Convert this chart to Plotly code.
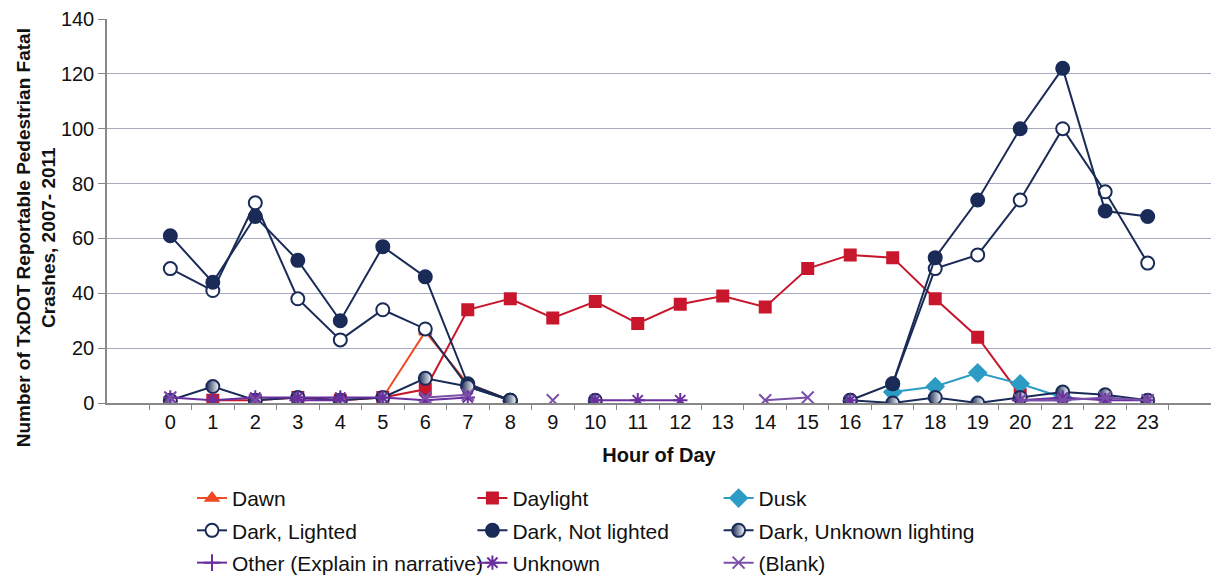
import plotly.graph_objects as go

# Ora del giorno (categorie asse x)
hours = [str(h) for h in range(24)]
N = None

dawn = [N, N, N, N, N, 2, 26, 7, 1, N, N, N, N, N, N, N, N, N, N, N, N, N, N, N]
daylight = [N, 1, 1, 2, 1, 2, 5, 34, 38, 31, 37, 29, 36, 39, 35, 49, 54, 53, 38, 24, 3, N, N, N]
dusk = [N, N, N, N, N, N, N, N, N, N, N, N, N, N, N, N, N, 4, 6, 11, 7, 2, N, N]
dark_lighted = [49, 41, 73, 38, 23, 34, 27, 6, 1, N, N, N, N, N, N, N, N, 7, 49, 54, 74, 100, 77, 51]
dark_not_lighted = [61, 44, 68, 52, 30, 57, 46, 7, 1, N, N, N, N, N, N, N, 1, 7, 53, 74, 100, 122, 70, 68]
dark_unknown = [1, 6, 1, 2, 1, 2, 9, 6, 1, N, 1, N, N, N, N, N, 1, 0, 2, 0, 2, 4, 3, 1]
other = [N, N, N, 1, 1, N, N, N, N, N, N, N, N, N, N, N, N, N, N, N, 1, 1, N, N]
unknown = [2, 1, 2, 2, 2, 2, 1, 2, N, N, 1, 1, 1, N, N, N, 1, N, N, N, 1, 2, 1, 1]
blank = [2, N, 1, N, N, N, 2, 3, N, 1, N, N, N, N, 1, 2, N, N, N, N, 1, 1, 2, 1]

NAVY = "#1a2b57"
PURPLE = "#6a2f9e"
FONT = "Liberation Sans, Arial, sans-serif"

fig = go.Figure()


def add_series(name, values, color, symbol, size, legend, fill=None, lw=2, gradient=None):
    marker = dict(symbol=symbol, size=size, color=fill if fill else color,
                  line=dict(color=color, width=2))
    if gradient:
        marker["gradient"] = gradient
    fig.add_trace(go.Scatter(
        x=hours, y=values, name=name, mode="lines+markers",
        line=dict(color=color, width=lw),
        marker=marker, legend=legend, legendgroup=name,
    ))


add_series("Dawn", dawn, "#ef4a24", "triangle-up", 11, "legend")
add_series("Daylight", daylight, "#c8172c", "square", 11, "legend2")
add_series("Dusk", dusk, "#2c9cc4", "diamond", 13, "legend3")
add_series("Dark, Lighted", dark_lighted, NAVY, "circle", 13, "legend", fill="white")
add_series("Dark, Not lighted", dark_not_lighted, NAVY, "circle", 13, "legend2")
add_series("Dark, Unknown lighting", dark_unknown, NAVY, "circle", 13, "legend3",
           fill=NAVY, gradient=dict(type="horizontal", color="white"))
add_series("Other (Explain in narrative)", other, PURPLE, "cross-thin", 12, "legend")
add_series("Unknown", unknown, PURPLE, "asterisk", 12, "legend2")
add_series("(Blank)", blank, "#7a4fa8", "x-thin", 12, "legend3")

legend_base = dict(
    orientation="v", yanchor="top", y=-0.195, xanchor="left",
    font=dict(family=FONT, size=21, color="#111"),
    tracegroupgap=2, bgcolor="rgba(0,0,0,0)",
)

# titolo asse y come annotazione, per posizionarlo come nell'originale
fig.add_annotation(
    text="<b>Number of TxDOT Reportable Pedestrian Fatal<br>Crashes, 2007- 2011</b>",
    xref="paper", yref="paper", x=-0.064, y=0.43,
    xanchor="center", yanchor="middle", textangle=-90, showarrow=False,
    font=dict(family=FONT, size=19, color="#111"),
)

fig.update_layout(
    width=1214, height=569,
    margin=dict(l=99, r=11, t=11, b=174, autoexpand=False),
    paper_bgcolor="white", plot_bgcolor="white",
    font=dict(family=FONT, size=20, color="#111"),
    legend=dict(legend_base, x=0.077),
    legend2=dict(legend_base, x=0.331),
    legend3=dict(legend_base, x=0.554),
    xaxis=dict(
        type="category", tickson="boundaries", ticks="outside", ticklen=5,
        tickcolor="#888", showline=True, linecolor="#888", linewidth=1.5,
        showgrid=False, tickfont=dict(size=20),
        title=dict(text="<b>Hour of Day</b>", font=dict(size=20), standoff=16),
    ),
    yaxis=dict(
        range=[0, 140], dtick=20, ticks="outside", ticklen=7, tickcolor="#888",
        showline=True, linecolor="#888", linewidth=1.5,
        gridcolor="#a9a9c2", gridwidth=1.2, zeroline=False,
        tickfont=dict(size=20), ticklabeloverflow="allow",
    ),
)

fig.write_html("out.html")
